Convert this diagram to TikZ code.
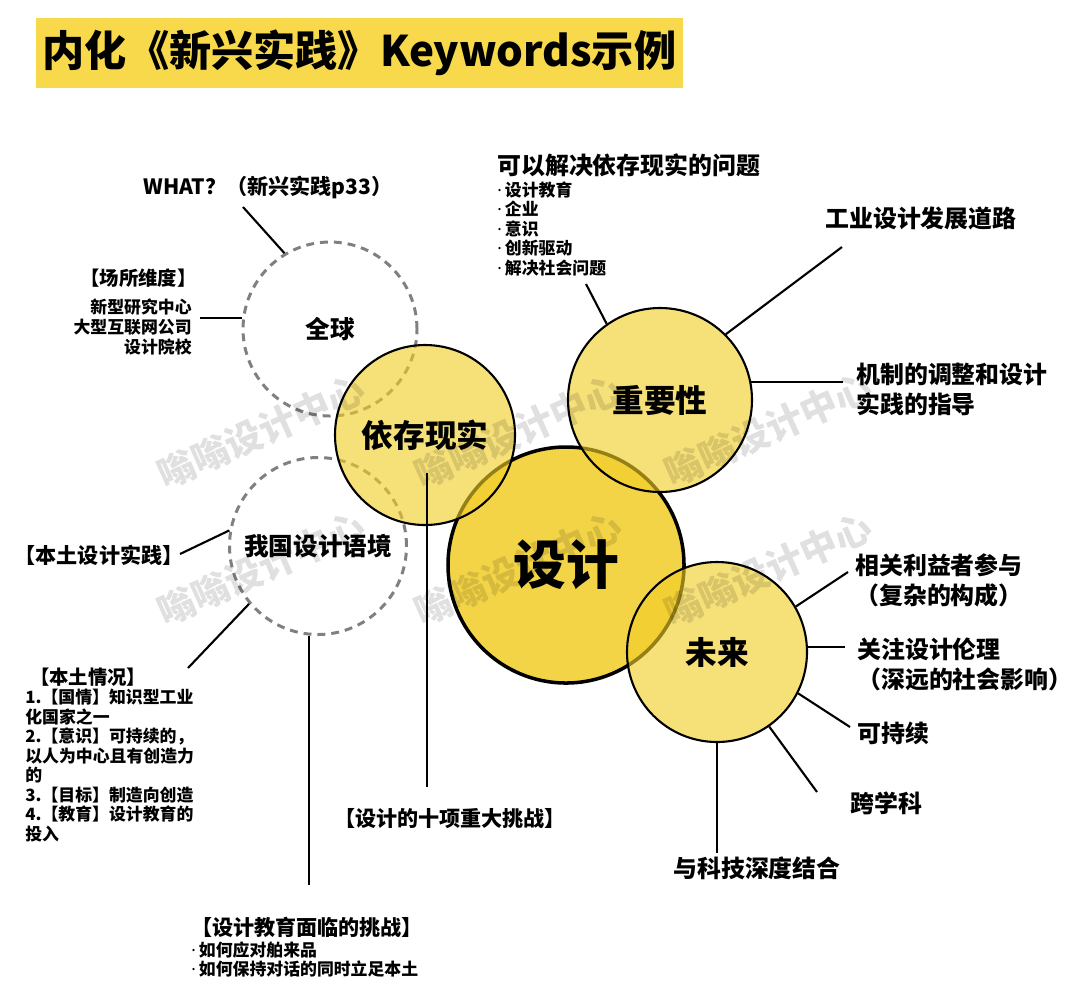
\documentclass[tikz,border=0pt]{standalone}
\usepackage{fontspec}
\setmainfont{Noto Sans CJK SC}
\newfontfamily\dotfont{Noto Sans}
\usepackage{tikz}
\usetikzlibrary{calc}
\definecolor{cTitle}{RGB}{247,217,75}
\definecolor{cYel}{RGB}{242,205,38}
\definecolor{cDash}{RGB}{128,128,128}
\tikzset{
	titlebar/.style ={rectangle, fill=cTitle, minimum width=129.4mm, minimum height=14mm, inner sep=0pt, font=\fontsize{24}{26}\selectfont\bfseries},
	dashcirc/.style ={circle, draw=cDash, line width=1.7pt, dash pattern=on 4.5pt off 3.4pt, inner sep=0pt, font=\fontsize{14}{16}\selectfont\bfseries},
	yelcirc/.style  ={circle, draw=black, line width=1.2pt, fill=cYel, fill opacity=0.62, text opacity=1, inner sep=0pt, font=\fontsize{18}{20}\selectfont\bfseries},
	maincirc/.style ={circle, draw=black, line width=2pt, fill=cYel, fill opacity=0.85, text opacity=1, inner sep=0pt, font=\fontsize{30}{32}\selectfont\bfseries},
	lblbig/.style   ={inner sep=0pt, font=\fontsize{13.6}{17}\selectfont\bfseries},
	lblmid/.style   ={inner sep=0pt, font=\fontsize{12}{14}\selectfont\bfseries},
	lblhead/.style  ={inner sep=0pt, font=\fontsize{11}{13}\selectfont\bfseries},
	lblsmall/.style ={inner sep=0pt, font=\fontsize{9.6}{11.1}\selectfont\bfseries},
	conn/.style     ={line width=1.2pt, black},
	wmk/.style      ={rotate=24, text=black, opacity=0.12, font=\fontsize{21}{23}\selectfont\bfseries},
}
\newcommand{\wmark}[3]{%
	\node[wmk] (#1) at (#2,#3) {嗡嗡设计中心};}
\newcommand{\bul}{{\dotfont\bfseries ·}\hspace{0.18em}}

\begin{document}
\begin{tikzpicture}[x=0.2mm, y=-0.2mm]
	\fill[white] (0,0) rectangle (1080,995);
	\useasboundingbox (0,0) rectangle (1080,995);
	\node[titlebar] (title) at (359.5,53) {内化《新兴实践》Keywords示例};
	\node[dashcirc, minimum size=34.8mm] (quanqiu) at (330,329) {全球};
	\node[dashcirc, minimum size=35.4mm] (woguo) at (318,546) {我国设计语境};
	\node[maincirc, minimum size=47.2mm] (sheji) at (566,565) {设计};
	\node[yelcirc, minimum size=36mm] (yicun) at (425,435) {依存现实};
	\node[yelcirc, minimum size=36.8mm] (zhongyao) at (660,400) {重要性};
	\node[yelcirc, minimum size=36mm] (weilai) at (717,652) {未来};
	\node[lblmid, anchor=west] (what) at (143,187) {WHAT？（新兴实践p33）};
	\node[lblhead, anchor=east] (changsuo) at (197,278) {【场所维度】};
	\node[lblsmall, anchor=north east, align=right] (changsuolist) at (192,299) {新型研究中心\\大型互联网公司\\设计院校};
	\node[lblmid] (btsj) at (99,555) {【本土设计实践】};
	\node[lblhead] (btqk) at (88,677) {【本土情况】};
	\node[lblsmall, anchor=north west, align=left] (btlist) at (25,689) {1.【国情】知识型工业\\化国家之一\\2.【意识】可持续的，\\以人为中心且有创造力\\的\\3.【目标】制造向创造\\4.【教育】设计教育的\\投入};
	\node[lblmid] (jyhead) at (307,927) {【设计教育面临的挑战】};
	\node[lblsmall, anchor=north west, align=left] (jylist) at (191,941) {\bul 如何应对舶来品\\\bul 如何保持对话的同时立足本土};
	\node[lblmid] (tiaozhan) at (450,818) {【设计的十项重大挑战】};
	\node[lblbig, anchor=west] (kejie) at (497,165) {可以解决依存现实的问题};
	\node[lblsmall, anchor=north west, align=left] (kjlist) at (497,181) {\bul 设计教育\\\bul 企业\\\bul 意识\\\bul 创新驱动\\\bul 解决社会问题};
	\node[lblbig, anchor=west] (gongye) at (825,218) {工业设计发展道路};
	\node[lblbig, anchor=north west, align=left] (jizhi) at (856,363) {机制的调整和设计\\实践的指导};
	\node[lblbig, anchor=north west, align=left] (xiangguan) at (855,553) {相关利益者参与\\（复杂的构成）};
	\node[lblbig, anchor=north west, align=left] (guanzhu) at (857,638) {关注设计伦理\\（深远的社会影响）};
	\node[lblbig, anchor=west] (kcx) at (857,733) {可持续};
	\node[lblbig, anchor=west] (kxk) at (850,803) {跨学科};
	\node[lblbig] (keji) at (757,868) {与科技深度结合};
	\coordinate (p-what) at (243,207);
	\coordinate (p-cs) at (200,318);
	\coordinate (p-bt) at (180,554);
	\coordinate (p-bq) at (188,668);
	\coordinate (p-jy) at (310,885);
	\coordinate (p-tz) at (427,787);
	\coordinate (p-wt) at (586,284);
	\coordinate (p-gy) at (842,247);
	\coordinate (p-jz) at (843,382);
	\coordinate (p-xg) at (848,572);
	\coordinate (p-gz) at (845,647);
	\coordinate (p-kc) at (850,727);
	\coordinate (p-kx) at (817,792);
	\coordinate (p-kj) at (717,853);
	\draw[conn] (quanqiu.121) -- (p-what);
	\draw[conn] (quanqiu.173) -- (quanqiu.173 -| p-cs);
	\draw[conn] (woguo.170) -- (p-bt);
	\draw[conn] (woguo.220) -- (p-bq);
	\draw[conn] (woguo.264) -- (woguo.264 |- p-jy);
	\draw[conn] ($(yicun.center)+(2,38)$) -- (p-tz);
	\draw[conn] (zhongyao.125) -- (p-wt);
	\draw[conn] (zhongyao.45) -- (p-gy);
	\draw[conn] (zhongyao.11) -- (zhongyao.11 -| p-jz);
	\draw[conn] (weilai.30) -- (p-xg);
	\draw[conn] (weilai.3) -- (weilai.3 -| p-gz);
	\draw[conn] (weilai.-27) -- (p-kc);
	\draw[conn] (weilai.-55) -- (p-kx);
	\draw[conn] (weilai.270) -- (weilai.270 |- p-kj);
	\wmark{wm1}{261}{432}
	\wmark{wm2}{518}{432}
	\wmark{wm3}{768}{430}
	\wmark{wm4}{261}{569}
	\wmark{wm5}{518}{569}
	\wmark{wm6}{768}{570}
\end{tikzpicture}
\end{document}
